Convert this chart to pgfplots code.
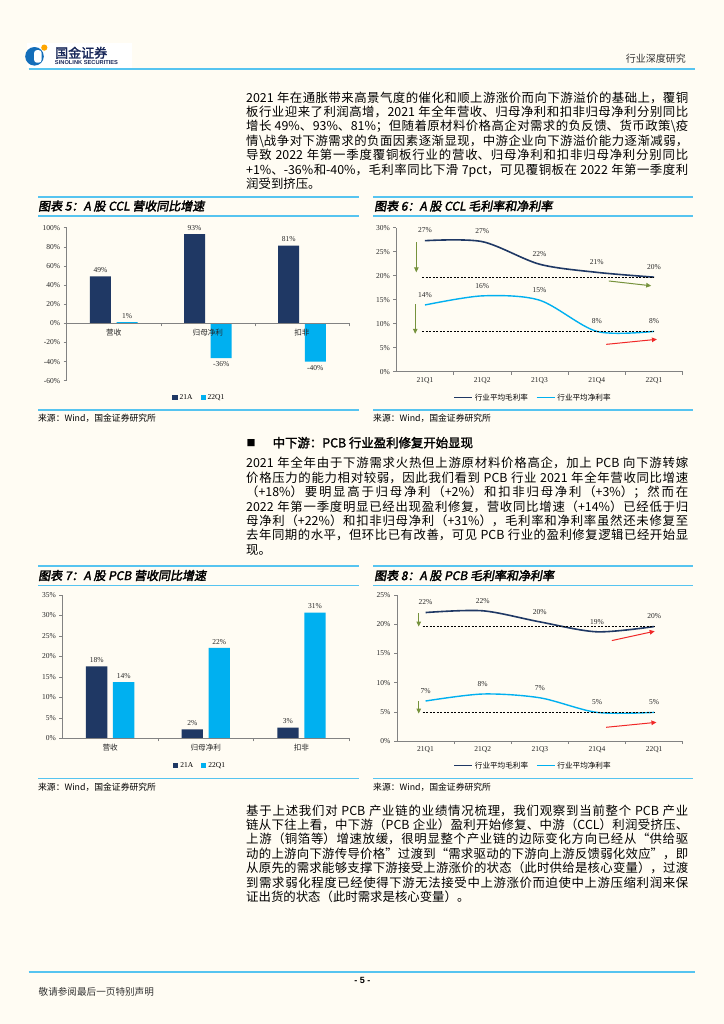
\documentclass[border=0pt]{standalone}
\usepackage{fontspec}
\usepackage{pgfplots}
\pgfplotsset{compat=1.18}
\usetikzlibrary{arrows.meta}
\setmainfont{Noto Sans CJK SC}
\newfontfamily\cjkt{Noto Sans CJK SC}[FakeBold=2.5,FakeSlant=0.18]
\newfontfamily\cjkb{Noto Sans CJK SC}[FakeBold=2]
\newfontfamily\tms{Liberation Serif}
\newfontfamily\ars{Liberation Sans}
\XeTeXlinebreaklocale "zh"
\XeTeXlinebreakskip=0pt plus 1.2pt minus 0.4pt
\XeTeXlinebreakpenalty=10000
\definecolor{bg}{RGB}{255,252,243}
\definecolor{hline}{RGB}{86,196,240}
\definecolor{navy}{RGB}{31,56,100}
\definecolor{lblue}{RGB}{0,176,240}
\definecolor{agreen}{RGB}{118,146,60}
\definecolor{ared}{RGB}{240,40,40}
\definecolor{axgray}{RGB}{130,130,130}
\definecolor{logoblue}{RGB}{20,110,185}
\definecolor{logonavy}{RGB}{25,40,90}
\newcommand\tmsf{\tms\fontsize{7.5bp}{9bp}\selectfont}
\newcommand\cjs{\fontsize{7.6bp}{9bp}\selectfont}
\newcommand\bodyf{\fontsize{12.4bp}{14.4bp}\selectfont}
\newcommand\ttlf{\cjkt\fontsize{12bp}{14bp}\selectfont}
\newcommand\srcf{\fontsize{8.8bp}{10bp}\selectfont}
\pgfplotsset{
  pg/.style={
    scale only axis, anchor=south west, clip=false,
    axis line style={draw=axgray, line width=0.6bp},
    tick style={draw=axgray, line width=0.5bp},
    major tick length=3bp,
    ticklabel style={font=\tmsf, text=black!85},
    /pgf/number format/assume math mode=true,
    yticklabel={\pgfmathprintnumber{\tick}\%},
    legend style={draw=none, fill=none, legend columns=2, inner sep=0pt,
      /tikz/every even column/.append style={column sep=6bp}},
  },
  lab/.style={nodes near coords={\pgfmathprintnumber[fixed,precision=0]{\pgfplotspointmeta}\%},
    every node near coord/.append style={font=\tmsf, text=black!85}},
  sqleg/.style={legend image code/.code={\fill[##1] (0bp,-2.6bp) rectangle (5.2bp,2.6bp);}},
  linleg/.style={legend image code/.code={\draw[##1] (0bp,0bp) -- (18bp,0bp);}},
}
\begin{document}
\begin{tikzpicture}[x=1bp,y=-1bp]
\fill[bg] (0,0) rectangle (724,1024);
% ---------- header ----------
\fill[white] (26.7,42.7) rectangle (131.7,68.3);
\fill[logoblue] (34.5,56.3) circle (9.3);
\fill[white, rounded corners=2.5bp] (34.2,50.2) rectangle (41.5,62.6);
\fill[orange!70!yellow] (44.3,47.6) circle (3.1);
\node[anchor=west, inner sep=0pt, font=\cjkb\fontsize{13bp}{14bp}\selectfont, text=logonavy] at (55,52.8) {国金证券};
\node[anchor=west, inner sep=0pt, font=\ars\bfseries\fontsize{5.7bp}{6bp}\selectfont, text=logonavy] at (54.8,63) {SINOLINK SECURITIES};
\node[anchor=east, inner sep=0pt, font=\fontsize{10bp}{12bp}\selectfont, text=black!80] at (686,59) {行业深度研究};
\draw[hline, line width=2.3bp] (28.6,69.3) -- (695,69.3);
% ---------- paragraph 1 ----------
\node[anchor=north west, inner sep=0pt, text width=442bp, align=justify, font=\bodyf] at (246,91.4) {%
2021~年在通胀带来高景气度的催化和顺上游涨价而向下游溢价的基础上，覆铜\linebreak
板行业迎来了利润高增，2021~年全年营收、归母净利和扣非归母净利分别同比\linebreak
增长~49\%、93\%、81\%；但随着原材料价格高企对需求的负反馈、货币政策\textbackslash 疫\linebreak
情\textbackslash 战争对下游需求的负面因素逐渐显现，中游企业向下游溢价能力逐渐减弱，\linebreak
导致~2022~年第一季度覆铜板行业的营收、归母净利和扣非归母净利分别同比\linebreak
+1\%、-36\%和-40\%，毛利率同比下滑~7pct，可见覆铜板在~2022~年第一季度利\linebreak
润受到挤压。};
% ---------- chart headers 5/6 ----------
\draw[hline, line width=1.6bp] (38,196.7) -- (359,196.7);
\draw[hline, line width=1.6bp] (38,216) -- (359,216);
\draw[hline, line width=1.6bp] (373,196.7) -- (693,196.7);
\draw[hline, line width=1.6bp] (373,216) -- (693,216);
\node[anchor=west, inner sep=0pt, font=\ttlf] at (38,206) {图表 5：A 股 CCL 营收同比增速};
\node[anchor=west, inner sep=0pt, font=\ttlf] at (374,206) {图表 6：A 股 CCL 毛利率和净利率};
\draw[hline, line width=1.6bp] (38,410) -- (359,410);
\draw[hline, line width=1.6bp] (373,410) -- (693,410);
\node[anchor=west, inner sep=0pt, font=\srcf] at (38,418.5) {来源：Wind，国金证券研究所};
\node[anchor=west, inner sep=0pt, font=\srcf] at (373,418.5) {来源：Wind，国金证券研究所};
% ---------- chart 5 ----------
\begin{axis}[pg, at={(66.7bp,-380.7bp)}, width=282.3bp, height=153bp,
  ybar=5.6bp, bar width=21bp, sqleg, axis on top,
  xmin=-0.5, xmax=2.5, ymin=-60, ymax=100, ytick={-60,-40,...,100},
  axis x line=middle, axis y line=left, axis line style={-},
  hide obscured x ticks=false, hide obscured y ticks=false,
  tick align=outside,
  xtick={0.5,1.5,2.5}, xticklabels={},
  extra x ticks={0,1,2}, extra x tick labels={营收,归母净利,扣非},
  extra x tick style={major tick length=0pt, tick label style={font=\cjs, yshift=-2bp}},
  nodes near coords align=vertical,
  legend style={at={(0.47,-0.111)}, anchor=center, font=\tmsf},
]
\addplot[fill=navy, draw=none, lab, every node near coord/.append style={inner sep=3.5bp}] coordinates {(0,49.2) (1,93.4) (2,81.3)};
\addplot[fill=lblue, draw=none, lab, every node near coord/.append style={inner sep=3.5bp}] coordinates {(0,1.3) (1,-36.3) (2,-40.0)};
\legend{21A,22Q1}
\end{axis}
% ---------- chart 6 ----------
\begin{axis}[pg, at={(396.3bp,-371.7bp)}, width=286.4bp, height=144bp, linleg,
  xmin=-0.5, xmax=4.5, ymin=0, ymax=30, ytick={0,5,...,30},
  axis lines=left, axis line style={-}, tick align=outside,
  xtick={0.5,1.5,2.5,3.5,4.5}, xticklabels={},
  extra x ticks={0,1,2,3,4}, extra x tick labels={21Q1,21Q2,21Q3,21Q4,22Q1},
  extra x tick style={major tick length=0pt, tick label style={yshift=-2bp}},
  legend style={at={(0.477,-0.18)}, anchor=center, font=\cjs},
]
\addplot[navy, line width=1.6bp, smooth, lab, every node near coord/.append style={anchor=south, yshift=3.5bp}] coordinates {(0,27.3) (1,27.1) (2,22.4) (3,20.7) (4,19.7)};
\addplot[lblue, line width=1.4bp, smooth, lab, every node near coord/.append style={anchor=south, yshift=3.5bp}] coordinates {(0,13.9) (1,15.8) (2,14.9) (3,8.4) (4,8.4)};
\addplot[black, line width=0.6bp, dash pattern=on 2bp off 1.5bp, forget plot] coordinates {(-0.05,19.7) (4,19.7)};
\addplot[black, line width=0.6bp, dash pattern=on 2bp off 1.5bp, forget plot] coordinates {(-0.05,8.4) (4,8.4)};
\addplot[agreen, line width=1bp, -{Triangle[length=5bp,width=4.5bp]}, forget plot] coordinates {(-0.15,27.0) (-0.15,20.7)};
\addplot[agreen, line width=1bp, -{Triangle[length=5bp,width=4.5bp]}, forget plot] coordinates {(-0.17,14.1) (-0.17,7.9)};
\addplot[agreen, line width=1bp, -{Triangle[length=5bp,width=4.5bp]}, forget plot] coordinates {(3.21,18.9) (3.95,17.9)};
\addplot[ared, line width=1bp, -{Triangle[length=5bp,width=4.5bp]}, forget plot] coordinates {(3.165,5.7) (4.05,6.75)};
\legend{行业平均毛利率,行业平均净利率}
\end{axis}
% ---------- section heading + paragraph 2 ----------
\node[anchor=west, inner sep=0pt, font=\fontsize{9bp}{10bp}\selectfont] at (246.5,442.7) {■};
\node[anchor=west, inner sep=0pt, font=\cjkb\fontsize{12.4bp}{14bp}\selectfont] at (272.5,442.7) {中下游：PCB 行业盈利修复开始显现};
\node[anchor=north west, inner sep=0pt, text width=442bp, align=justify, font=\bodyf] at (246,457.1) {%
2021~年全年由于下游需求火热但上游原材料价格高企，加上~PCB~向下游转嫁\linebreak
价格压力的能力相对较弱，因此我们看到~PCB~行业~2021~年全年营收同比增速\linebreak
（+18\%）要明显高于归母净利（+2\%）和扣非归母净利（+3\%）；然而在\linebreak
2022~年第一季度明显已经出现盈利修复，营收同比增速（+14\%）已经低于归\linebreak
母净利（+22\%）和扣非归母净利（+31\%），毛利率和净利率虽然还未修复至\linebreak
去年同期的水平，但环比已有改善，可见~PCB~行业的盈利修复逻辑已经开始显\linebreak
现。};
% ---------- chart headers 7/8 ----------
\draw[hline, line width=1.6bp] (38,566) -- (359,566);
\draw[hline, line width=1.6bp] (38,585.5) -- (359,585.5);
\draw[hline, line width=1.6bp] (373,566) -- (693,566);
\draw[hline, line width=1.6bp] (373,585.5) -- (693,585.5);
\node[anchor=west, inner sep=0pt, font=\ttlf] at (38,575.5) {图表 7：A 股 PCB 营收同比增速};
\node[anchor=west, inner sep=0pt, font=\ttlf] at (374,575.5) {图表 8：A 股 PCB 毛利率和净利率};
\draw[hline, line width=1.6bp] (38,778.3) -- (359,778.3);
\draw[hline, line width=1.6bp] (373,778.3) -- (693,778.3);
\node[anchor=west, inner sep=0pt, font=\srcf] at (38,787.7) {来源：Wind，国金证券研究所};
\node[anchor=west, inner sep=0pt, font=\srcf] at (373,787.7) {来源：Wind，国金证券研究所};
% ---------- chart 7 ----------
\begin{axis}[pg, at={(62.3bp,-738.3bp)}, width=287bp, height=143.3bp,
  ybar=5.7bp, bar width=21.3bp, sqleg, axis on top,
  xmin=-0.5, xmax=2.5, ymin=0, ymax=35, ytick={0,5,...,35},
  axis lines=left, axis line style={-}, tick align=outside,
  xtick={0.5,1.5,2.5}, xticklabels={},
  extra x ticks={0,1,2}, extra x tick labels={营收,归母净利,扣非},
  extra x tick style={major tick length=0pt, tick label style={font=\cjs, yshift=-2bp}},
  legend style={at={(0.48,-0.191)}, anchor=center, font=\tmsf},
]
\addplot[fill=navy, draw=none, lab, every node near coord/.append style={inner sep=3.5bp}] coordinates {(0,17.6) (1,2.2) (2,2.6)};
\addplot[fill=lblue, draw=none, lab, every node near coord/.append style={inner sep=3.5bp}] coordinates {(0,13.7) (1,22.1) (2,30.7)};
\legend{21A,22Q1}
\end{axis}
% ---------- chart 8 ----------
\begin{axis}[pg, at={(397bp,-741bp)}, width=285.7bp, height=146bp, linleg,
  xmin=-0.5, xmax=4.5, ymin=0, ymax=25, ytick={0,5,...,25},
  axis lines=left, axis line style={-}, tick align=outside,
  xtick={0.5,1.5,2.5,3.5,4.5}, xticklabels={},
  extra x ticks={0,1,2,3,4}, extra x tick labels={21Q1,21Q2,21Q3,21Q4,22Q1},
  extra x tick style={major tick length=0pt, tick label style={yshift=-2bp}},
  legend style={at={(0.476,-0.169)}, anchor=center, font=\cjs},
]
\addplot[navy, line width=1.6bp, smooth, lab, every node near coord/.append style={anchor=south, yshift=3.5bp}] coordinates {(0,22.0) (1,22.3) (2,20.4) (3,18.7) (4,19.6)};
\addplot[lblue, line width=1.4bp, smooth, lab, every node near coord/.append style={anchor=south, yshift=3.5bp}] coordinates {(0,6.85) (1,8.05) (2,7.4) (3,4.9) (4,4.9)};
\addplot[black, line width=0.6bp, dash pattern=on 2bp off 1.5bp, forget plot] coordinates {(-0.05,19.6) (4,19.6)};
\addplot[black, line width=0.6bp, dash pattern=on 2bp off 1.5bp, forget plot] coordinates {(-0.05,5.0) (4,5.0)};
\addplot[agreen, line width=1bp, -{Triangle[length=5bp,width=4.5bp]}, forget plot] coordinates {(-0.12,21.9) (-0.12,19.6)};
\addplot[agreen, line width=1bp, -{Triangle[length=5bp,width=4.5bp]}, forget plot] coordinates {(-0.12,6.8) (-0.12,4.7)};
\addplot[ared, line width=1bp, -{Triangle[length=5bp,width=4.5bp]}, forget plot] coordinates {(3.26,17.2) (4.01,18.8)};
\addplot[ared, line width=1bp, -{Triangle[length=5bp,width=4.5bp]}, forget plot] coordinates {(3.16,2.35) (4.04,3.2)};
\legend{行业平均毛利率,行业平均净利率}
\end{axis}
% ---------- paragraph 3 ----------
\node[anchor=north west, inner sep=0pt, text width=442bp, align=justify, font=\bodyf] at (246,804.4) {%
基于上述我们对~PCB~产业链的业绩情况梳理，我们观察到当前整个~PCB~产业\linebreak
链从下往上看，中下游（PCB~企业）盈利开始修复、中游（CCL）利润受挤压、\linebreak
上游（铜箔等）增速放缓，很明显整个产业链的边际变化方向已经从“供给驱\linebreak
动的上游向下游传导价格”过渡到“需求驱动的下游向上游反馈弱化效应”，即\linebreak
从原先的需求能够支撑下游接受上游涨价的状态（此时供给是核心变量），过渡\linebreak
到需求弱化程度已经使得下游无法接受中上游涨价而迫使中上游压缩利润来保\linebreak
证出货的状态（此时需求是核心变量）。};
% ---------- footer ----------
\draw[hline, line width=2.3bp] (28.6,972) -- (695,972);
\node[inner sep=0pt, font=\ars\bfseries\fontsize{9bp}{10bp}\selectfont] at (362.4,980.5) {- 5 -};
\node[anchor=west, inner sep=0pt, font=\fontsize{9.6bp}{11bp}\selectfont, text=black!80] at (38.5,992) {敬请参阅最后一页特别声明};
\pgfresetboundingbox
\path[use as bounding box] (0,0) rectangle (724,1024);
\end{tikzpicture}
\end{document}
